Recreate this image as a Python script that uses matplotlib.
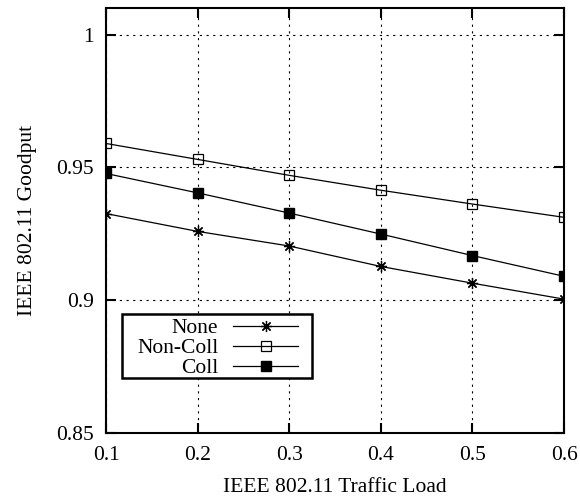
import matplotlib
matplotlib.use('Agg')
import matplotlib.pyplot as plt
from matplotlib.patches import Rectangle

font_size = 15.5
matplotlib.rcParams['font.family'] = ['Liberation Serif', 'DejaVu Serif']
matplotlib.rcParams['font.size'] = font_size
matplotlib.rcParams['axes.linewidth'] = 1.5

load = [0.1, 0.2, 0.3, 0.4, 0.5, 0.6]
none_vals = [0.9326, 0.9259, 0.9204, 0.9127, 0.9064, 0.9004]
noncoll_vals = [0.9590, 0.9530, 0.9470, 0.9414, 0.9362, 0.9312]
coll_vals = [0.9477, 0.9404, 0.9328, 0.9249, 0.9168, 0.9090]

xticks = [0.1, 0.2, 0.3, 0.4, 0.5, 0.6]
yticks = [0.85, 0.9, 0.95, 1.0]
ytick_labels = ['0.85', '0.9', '0.95', '1']

fig = plt.figure(figsize=(5.8, 4.97), dpi=100)
ax = fig.add_axes([106 / 580, 1 - 433 / 497, 458 / 580, 425 / 497])

ax.plot(load, none_vals, color='black', lw=0.9, marker=(8, 2, 0), ms=8, mew=0.9, label='None')
ax.plot(load, noncoll_vals, color='black', lw=0.9, marker='s', ms=7, mfc='none', mew=0.9, label='Non-Coll')
ax.plot(load, coll_vals, color='black', lw=0.9, marker='s', ms=7, mfc='black', label='Coll')

ax.set_xlim(0.1, 0.6)
ax.set_ylim(0.85, 1.01)
ax.set_xticks(xticks)
ax.set_xticklabels([str(t) for t in xticks])
ax.set_yticks(yticks)
ax.set_yticklabels(ytick_labels)
ax.tick_params(direction='in', length=7, width=1.5, top=True, right=True, pad=9)
ax.grid(True, color='black', lw=0.8, linestyle=(0, (2, 4)))

ax.set_xlabel('IEEE 802.11 Traffic Load')
ax.set_ylabel('IEEE 802.11 Goodput')
ax.xaxis.set_label_coords(0.5, -0.105)
ax.yaxis.set_label_coords(-0.15, 0.5)

# gnuplot-style key: white box with thick border, text right-aligned before the sample
ax.add_patch(Rectangle((0.0349, 0.1294), 0.4148, 0.1506, transform=ax.transAxes,
                       facecolor='white', edgecolor='black', lw=1.8, zorder=4))
leg = ax.legend(loc='upper right', bbox_to_anchor=(0.419, 0.2705), borderaxespad=0,
                markerfirst=False, handlelength=3, handletextpad=0.7,
                labelspacing=0.0, borderpad=0, frameon=False)
leg.set_zorder(5)

fig.savefig('out.png', dpi=100)
